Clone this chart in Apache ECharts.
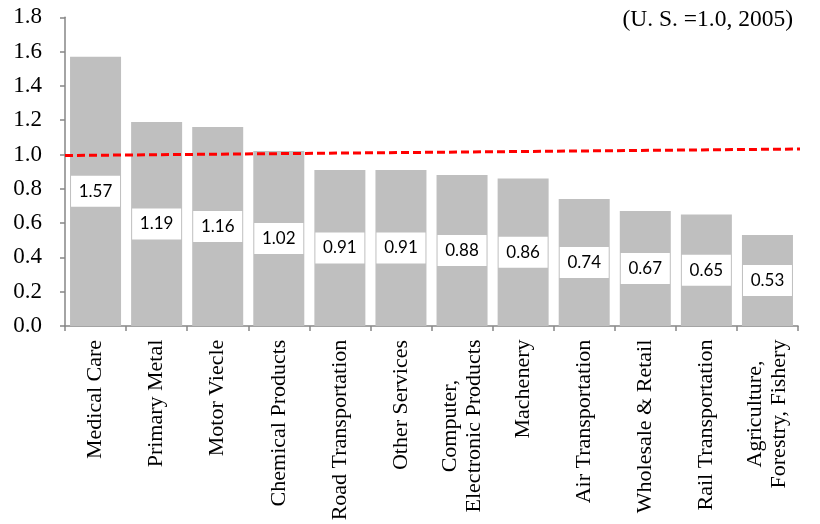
<!DOCTYPE html>
<html>
<head>
<meta charset="utf-8">
<script src="https://cdn.jsdelivr.net/npm/echarts@6/dist/echarts.min.js"></script>
<style>
  html, body { margin: 0; padding: 0; background: #fff; }
  #chart { width: 820px; height: 524px; }
</style>
</head>
<body>
<div id="chart"></div>
<script>
// Relative productivity by industry (U.S. = 1.0, 2005)
const categories = [
  'Medical Care', 'Primary Metal', 'Motor Viecle', 'Chemical Products',
  'Road Transportation', 'Other Services', 'Computer,\nElectronic Products',
  'Machenery', 'Air Transportation', 'Wholesale & Retail',
  'Rail Transportation', 'Agriculture,\nForestry, Fishery'
];
const values = [1.57, 1.19, 1.16, 1.02, 0.91, 0.91, 0.88, 0.86, 0.74, 0.67, 0.65, 0.53];
const yTicks = { min: 0, max: 1.8, interval: 0.2 };
// U.S. reference level, drawn as a dashed line across the plot
const refLine = [[0, 0.994], [12.36, 1.033]];
const noteText = '(U. S. =1.0, 2005)';

const serif = "'Liberation Serif', 'Times New Roman', serif";
const catFontSize = 22;

// centre every line of a multi-line category label within the label block
const ctx = document.createElement('canvas').getContext('2d');
ctx.font = catFontSize + 'px ' + serif;
const rich = {};
categories.forEach((c, i) => {
  const w = Math.max(...c.split('\n').map(l => ctx.measureText(l).width));
  rich['c' + i] = {
    width: Math.ceil(w) + 1, align: 'center',
    fontFamily: serif, fontSize: catFontSize, lineHeight: 24, color: '#000'
  };
});

const axisGray = '#868686';
const chart = echarts.init(document.getElementById('chart'));
chart.setOption({
  animation: false,
  backgroundColor: '#fff',
  title: {
    text: noteText, right: 22, top: 3,
    textStyle: { fontFamily: serif, fontSize: 23.5, fontWeight: 'normal', color: '#000' }
  },
  grid: {
    left: 65, right: 22, top: 17.3, bottom: 198,
    containLabel: false, outerBoundsMode: 'none'
  },
  xAxis: [{
    type: 'category',
    data: categories,
    axisLine: { lineStyle: { color: axisGray, width: 1.5 } },
    axisTick: { show: true, length: 5, lineStyle: { color: axisGray, width: 1.5 } },
    axisLabel: {
      rotate: 90, margin: 13, interval: 0,
      formatter: (v, i) => v.split('\n').map(l => '{c' + i + '|' + l + '}').join('\n'),
      rich: rich
    }
  }, {
    type: 'value', min: 0, max: 12, show: false
  }],
  yAxis: {
    type: 'value',
    min: yTicks.min, max: yTicks.max, interval: yTicks.interval,
    axisLine: { show: true, lineStyle: { color: axisGray, width: 1.5 } },
    axisTick: { show: true, length: 5, lineStyle: { color: axisGray, width: 1.5 } },
    splitLine: { show: false },
    axisLabel: {
      margin: 23, color: '#000', fontFamily: serif, fontSize: 23,
      formatter: v => v.toFixed(1)
    }
  },
  series: [{
    type: 'bar',
    data: values,
    barCategoryGap: '16.5%',
    itemStyle: { color: '#bfbfbf' },
    label: {
      show: true, position: 'inside',
      formatter: p => p.value.toFixed(2),
      backgroundColor: '#fff',
      width: 49, height: 31, lineHeight: 31, align: 'center',
      color: '#000', fontFamily: "Lato, 'Open Sans', sans-serif", fontSize: 17
    }
  }, {
    type: 'line',
    xAxisIndex: 1,
    data: refLine,
    clip: false,
    symbol: 'none',
    z: 5,
    lineStyle: { color: '#ff0000', width: 3, type: [8, 4] }
  }]
});
</script>
</body>
</html>
